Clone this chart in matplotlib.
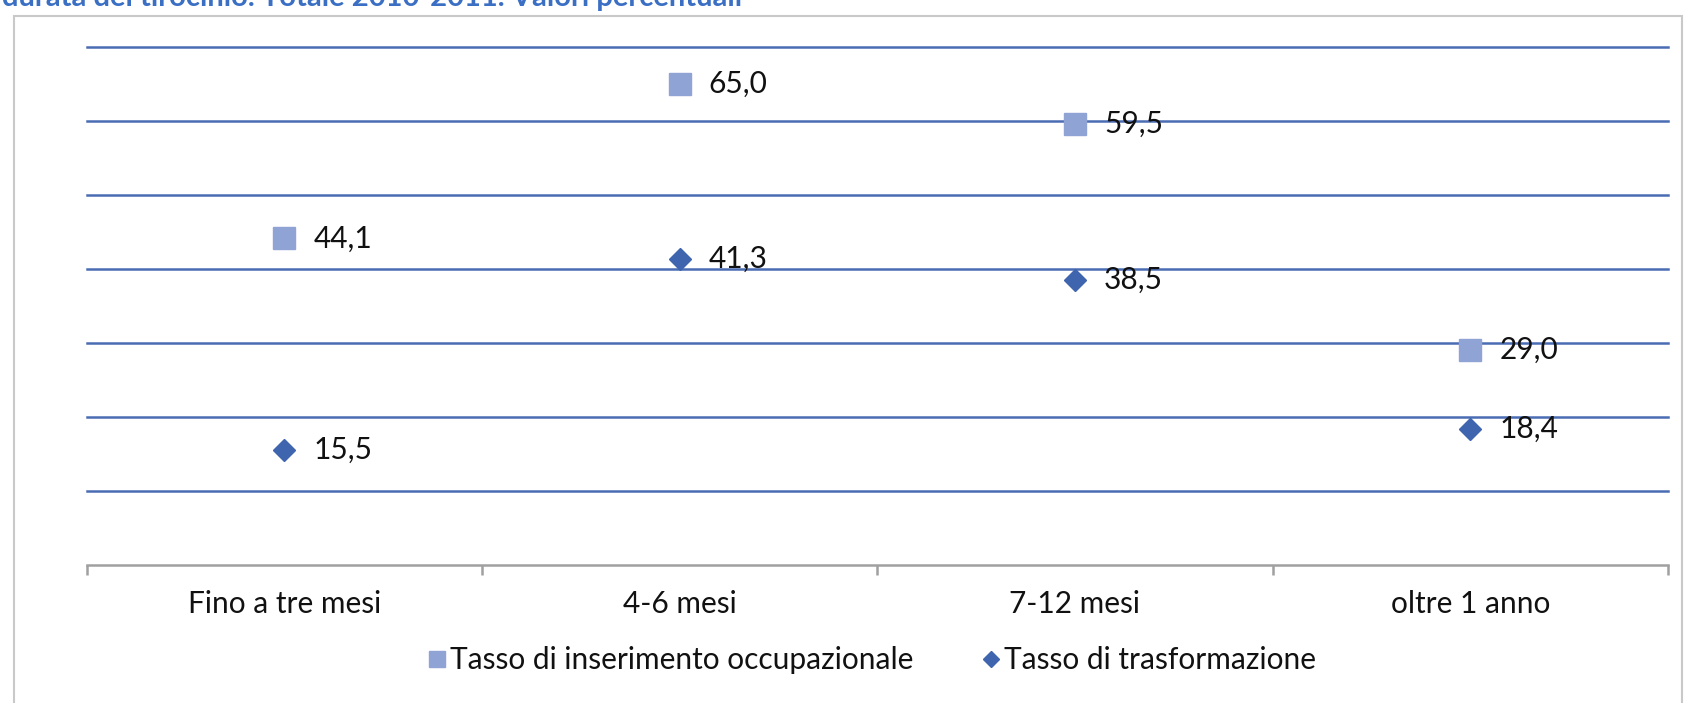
import matplotlib.pyplot as plt
from matplotlib.lines import Line2D
from matplotlib.patches import Rectangle

# Data
categories = ['Fino a tre mesi', '4-6 mesi', '7-12 mesi', 'oltre 1 anno']
inserimento = [44.1, 65.0, 59.5, 29.0]
trasformazione = [15.5, 41.3, 38.5, 18.4]
series_names = ['Tasso di inserimento occupazionale', 'Tasso di trasformazione']
grid_levels = [10, 20, 30, 40, 50, 60, 70]
title_text = 'durata del tirocinio. Totale 2010-2011. Valori percentuali'

# Colours
sq_color = '#8fa3d5'
dia_color = '#3f65ae'
grid_color = '#4a6cb3'
axis_color = '#a0a0a0'
frame_color = '#c9c9c9'
text_color = '#111111'
fs = 21.5

plt.rcParams['font.family'] = ['Lato', 'DejaVu Sans']

W, H = 1698, 703
fig = plt.figure(figsize=(W / 100, H / 100), dpi=100)

# outer chart frame (top, left, right visible)
fig.patches.append(Rectangle((14 / W, -0.1), (1682 - 14) / W, 1.1 - 16 / H,
                             transform=fig.transFigure, fill=False,
                             edgecolor=frame_color, linewidth=1.5))

# title, cut off by the top edge as in the source
fig.text(2 / W, 1 - 6 / H, title_text, ha='left', va='baseline',
         fontsize=21, fontweight='bold', color='#3a6fc4')

left, right = 86.6 / W, 1668 / W
bottom, top = (H - 565) / H, (H - 46.5) / H
ax = fig.add_axes([left, bottom, right - left, top - bottom])

x = list(range(len(categories)))
for lvl in grid_levels:
    ax.axhline(lvl, color=grid_color, linewidth=1.8, clip_on=False, zorder=1)

ax.plot(x, inserimento, linestyle='none', marker='s', markersize=15.8,
        color=sq_color, zorder=3)
ax.plot(x, trasformazione, linestyle='none', marker='D', markersize=11.2,
        color=dia_color, zorder=3)

for xi, v in zip(x, inserimento):
    ax.annotate(f'{v:.1f}'.replace('.', ','), (xi, v), xytext=(21, 0),
                textcoords='offset points', va='center', ha='left',
                fontsize=fs, color=text_color, zorder=4)
for xi, v in zip(x, trasformazione):
    ax.annotate(f'{v:.1f}'.replace('.', ','), (xi, v), xytext=(21, 0),
                textcoords='offset points', va='center', ha='left',
                fontsize=fs, color=text_color, zorder=4)

ax.set_xlim(-0.5, len(categories) - 0.5)
ax.set_ylim(0, 70)
ax.set_yticks([])
for s in ['left', 'right', 'top']:
    ax.spines[s].set_visible(False)
ax.spines['bottom'].set_color(axis_color)
ax.spines['bottom'].set_linewidth(1.8)

# category ticks between groups, labels centred
ax.set_xticks([i - 0.5 for i in range(len(categories) + 1)])
ax.set_xticklabels([])
ax.set_xticks(x, minor=True)
ax.set_xticklabels(categories, minor=True, fontsize=fs, color=text_color)
ax.tick_params(axis='x', which='major', direction='out', length=7,
               width=1.8, color=axis_color)
ax.tick_params(axis='x', which='minor', length=0, pad=18)

handles = [
    Line2D([], [], linestyle='none', marker='s', markersize=11.5, color=sq_color),
    Line2D([], [], linestyle='none', marker='D', markersize=8, color=dia_color),
]
fig.legend(handles, series_names, loc='center', bbox_to_anchor=(872 / W, 1 - 660 / H),
           ncol=2, frameon=False, fontsize=fs, handlelength=0.6,
           handletextpad=0.15, columnspacing=2.3, labelcolor=text_color)

fig.savefig('out.png', dpi=100)
